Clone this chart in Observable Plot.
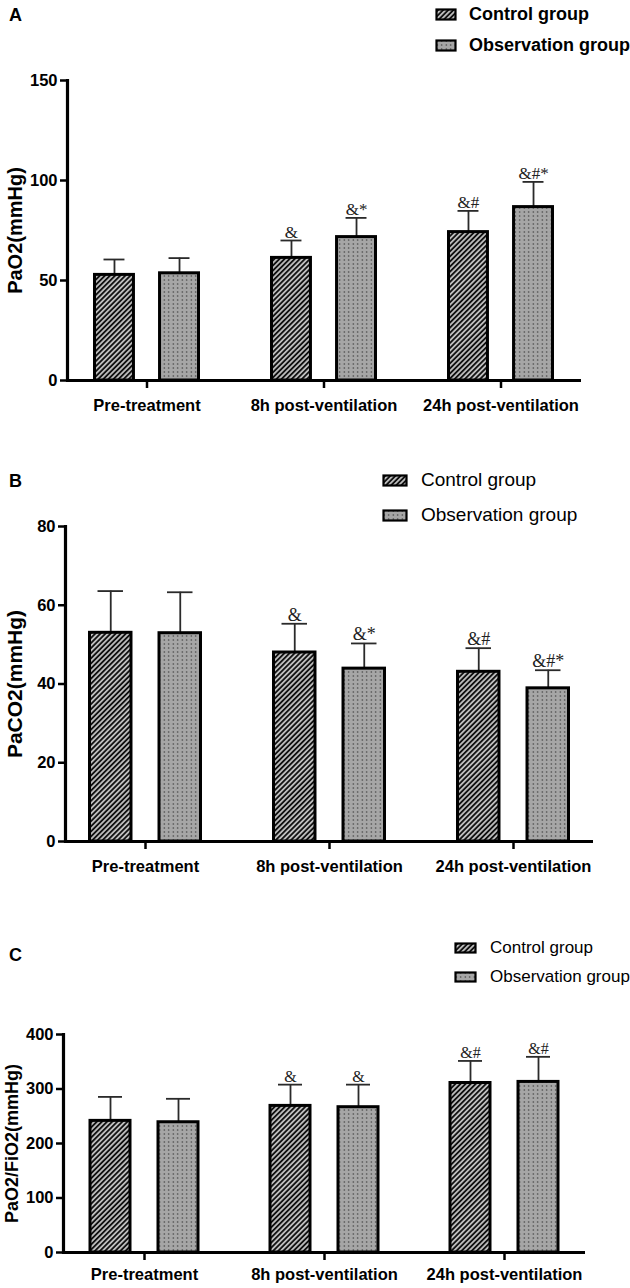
<!DOCTYPE html>
<html><head><meta charset="utf-8">
<script src="https://cdn.jsdelivr.net/npm/d3@7"></script>
<script src="https://cdn.jsdelivr.net/npm/@observablehq/plot@0.6"></script>
<style>
body{margin:0;background:#fff;width:630px;height:1288px;position:relative;overflow:hidden;font-family:"Liberation Sans",Arial,sans-serif;color:#000;}
.abs{position:absolute;}
.letter{position:absolute;font-weight:bold;font-size:18px;line-height:18px;}
.row{position:absolute;display:flex;align-items:center;white-space:nowrap;}
</style></head><body>
<svg width="0" height="0" style="position:absolute">
 <defs>
  <pattern id="hatch" patternUnits="userSpaceOnUse" width="3.6" height="3.6" patternTransform="rotate(45)">
    <rect width="3.6" height="3.6" fill="#111"/>
    <line x1="1.8" y1="0" x2="1.8" y2="3.6" stroke="#fff" stroke-width="1.3"/>
  </pattern>
  <pattern id="dots" patternUnits="userSpaceOnUse" width="4.5" height="4">
    <rect width="4.5" height="4" fill="#a6a6a6"/>
    <circle cx="2.25" cy="2" r="0.65" fill="#2e2e2e"/>
  </pattern>
 </defs>
</svg>
<script>
// ---------- data ----------
const categories = ["Pre-treatment", "8h post-ventilation", "24h post-ventilation"];
const groups = ["Control group", "Observation group"];

// A: PaO2 (mmHg)
const pao2Control = [52.8, 61.3, 74.2];
const pao2ControlSD = [7.7, 8.7, 10.6];
const pao2Obs = [53.6, 71.7, 86.7];
const pao2ObsSD = [7.6, 9.6, 12.6];
const pao2ControlMarks = ["", "&", "&#"];
const pao2ObsMarks = ["", "&*", "&#*"];
const pao2Ticks = [0, 50, 100, 150];

// B: PaCO2 (mmHg)
const paco2Control = [53.0, 48.0, 43.1];
const paco2ControlSD = [10.6, 7.3, 6.0];
const paco2Obs = [52.9, 43.9, 38.9];
const paco2ObsSD = [10.4, 6.4, 4.6];
const paco2ControlMarks = ["", "&", "&#"];
const paco2ObsMarks = ["", "&*", "&#*"];
const paco2Ticks = [0, 20, 40, 60, 80];

// C: PaO2/FiO2 (mmHg)
const ratioControl = [241.5, 269, 311];
const ratioControlSD = [44, 39, 40.5];
const ratioObs = [239, 266.6, 313];
const ratioObsSD = [43, 41.4, 46];
const ratioControlMarks = ["", "&", "&#"];
const ratioObsMarks = ["", "&", "&#"];
const ratioTicks = [0, 100, 200, 300, 400];

function rowsOf(cm, csd, cmk, om, osd, omk) {
  const rows = [];
  categories.forEach((cat, i) => {
    rows.push({cat, group: groups[0], mean: cm[i], sd: csd[i], mark: cmk[i]});
    rows.push({cat, group: groups[1], mean: om[i], sd: osd[i], mark: omk[i]});
  });
  return rows;
}

const FONT = "Liberation Sans, Arial, sans-serif";
const SERIF = "Liberation Serif, Times New Roman, serif";

function panel(cfg) {
  const W = 630;
  const range = W - cfg.marginLeft - cfg.marginRight;
  const step = range / (categories.length - cfg.paddingInner);
  const bw = step * (1 - cfg.paddingInner);
  const o = cfg.outer, w = cfg.barW, k = cfg.capW;
  const geo = g => g === groups[0]
    ? {l: o, r: bw - o - w, c: o + w / 2 - bw / 2}
    : {l: bw - o - w, r: o, c: bw / 2 - o - w / 2};
  const marks = [];
  for (const g of groups) {
    const d = cfg.rows.filter(r => r.group === g);
    const q = geo(g);
    marks.push(Plot.ruleX(d, {x: "cat", y1: "mean", y2: r => r.mean + r.sd, dx: q.c, stroke: "#2a2a2a", strokeWidth: 1.8}));
    marks.push(Plot.tickY(d, {x: "cat", y: r => r.mean + r.sd, insetLeft: q.l + (w - k) / 2, insetRight: q.r + (w - k) / 2, stroke: "#2a2a2a", strokeWidth: 1.8}));
    marks.push(Plot.barY(d, {x: "cat", y: "mean", insetLeft: q.l, insetRight: q.r,
      fill: g === groups[0] ? "url(#hatch)" : "url(#dots)", stroke: "#000", strokeWidth: 3}));
    marks.push(Plot.text(d, {x: "cat", y: r => r.mean + r.sd, text: "mark", dx: q.c, dy: -3, lineAnchor: "bottom",
      fontFamily: SERIF, fontSize: cfg.markSize, fill: "#222"}));
  }
  const svg = Plot.plot({
    width: W, height: cfg.height,
    marginTop: cfg.marginTop, marginBottom: cfg.marginBottom,
    marginLeft: cfg.marginLeft, marginRight: cfg.marginRight,
    style: {fontFamily: FONT, background: "transparent", overflow: "visible", color: "#000"},
    x: {type: "band", domain: categories, paddingInner: cfg.paddingInner, paddingOuter: 0, label: null},
    y: {domain: [0, cfg.yMax], label: null},
    marks: [
      ...marks,
      Plot.ruleY([0], {stroke: "#000", strokeWidth: 3.2}),
      Plot.frame({anchor: "left", stroke: "#000", strokeWidth: 3.2}),
      Plot.axisY({ticks: cfg.ticks, tickFormat: d => String(d), tickSize: 7, tickPadding: 3, fontSize: 16.5, fontWeight: "bold", strokeWidth: 2.5, label: null, fontFamily: FONT}),
      Plot.axisX({tickSize: 8, tickPadding: cfg.tickPadding, fontSize: 16.5, fontWeight: "bold", strokeWidth: 2.5, label: null, fontFamily: FONT}),
      Plot.text([cfg.yLabel], {frameAnchor: "left", text: d => d, rotate: -90, dx: cfg.titleDx,
        textAnchor: "middle", lineAnchor: "middle",
        fontSize: cfg.titleSize, fontWeight: "bold", fontFamily: FONT, fill: "#000"})
    ]
  });
  const holder = document.createElement("div");
  holder.className = "abs";
  holder.style.top = cfg.top + "px";
  holder.style.left = "0px";
  holder.appendChild(svg);
  document.body.appendChild(holder);
}

function legend(cfg) {
  groups.forEach((g, i) => {
    const row = document.createElement("div");
    row.className = "row";
    const cy = cfg.rows[i];
    row.style.left = cfg.swLeft + "px";
    row.style.top = (cy - 15) + "px";
    row.style.height = "30px";
    const ns = "http://www.w3.org/2000/svg";
    const s = document.createElementNS(ns, "svg");
    s.setAttribute("width", cfg.swW + 2);
    s.setAttribute("height", cfg.swH + 2);
    const r = document.createElementNS(ns, "rect");
    r.setAttribute("x", 1.5); r.setAttribute("y", 1.5);
    r.setAttribute("width", cfg.swW - 1); r.setAttribute("height", cfg.swH - 1);
    r.setAttribute("fill", i === 0 ? "url(#hatch)" : "url(#dots)");
    r.setAttribute("stroke", "#000"); r.setAttribute("stroke-width", 2.2);
    s.appendChild(r);
    row.appendChild(s);
    const t = document.createElement("span");
    t.textContent = g;
    t.style.marginLeft = (cfg.textLeft - cfg.swLeft - cfg.swW - 2) + "px";
    t.style.fontSize = cfg.fontSize + "px";
    t.style.fontWeight = cfg.weight;
    row.appendChild(t);
    document.body.appendChild(row);
  });
}

function letter(txt, x, cy) {
  const d = document.createElement("div");
  d.className = "letter";
  d.textContent = txt;
  d.style.left = x + "px";
  d.style.top = (cy - 9) + "px";
  document.body.appendChild(d);
}

// Panel A
letter("A", 9, 15);
legend({swLeft: 435, swW: 20, swH: 11, textLeft: 469, rows: [14, 45], fontSize: 18, weight: "bold"});
panel({top: 70, height: 355, marginTop: 10, marginBottom: 45, marginLeft: 67, marginRight: 49,
  paddingInner: 0.112, yMax: 150, ticks: pao2Ticks, yLabel: "PaO2(mmHg)",
  rows: rowsOf(pao2Control, pao2ControlSD, pao2ControlMarks, pao2Obs, pao2ObsSD, pao2ObsMarks),
  outer: 26.5, barW: 40, capW: 22, markSize: 17, tickPadding: 11, titleDx: -52, titleSize: 20});

// Panel B
letter("B", 9, 481);
legend({swLeft: 382, swW: 24, swH: 11, textLeft: 421, rows: [480, 515], fontSize: 19, weight: "normal"});
panel({top: 510, height: 376, marginTop: 16, marginBottom: 45, marginLeft: 65, marginRight: 37,
  paddingInner: 0.142, yMax: 80, ticks: paco2Ticks, yLabel: "PaCO2(mmHg)",
  rows: rowsOf(paco2Control, paco2ControlSD, paco2ControlMarks, paco2Obs, paco2ObsSD, paco2ObsMarks),
  outer: 23.5, barW: 42, capW: 26, markSize: 18, tickPadding: 11, titleDx: -50, titleSize: 21});

// Panel C
letter("C", 9, 955);
legend({swLeft: 454, swW: 21, swH: 10, textLeft: 490, rows: [948, 977], fontSize: 17, weight: "normal"});
panel({top: 1020, height: 267, marginTop: 14, marginBottom: 35, marginLeft: 63, marginRight: 45,
  paddingInner: 0.1, yMax: 400, ticks: ratioTicks, yLabel: "PaO2/FiO2(mmHg)",
  rows: rowsOf(ratioControl, ratioControlSD, ratioControlMarks, ratioObs, ratioObsSD, ratioObsMarks),
  outer: 27, barW: 40, capW: 24, markSize: 16, tickPadding: 8, titleDx: -51, titleSize: 18});
</script>
</body></html>
